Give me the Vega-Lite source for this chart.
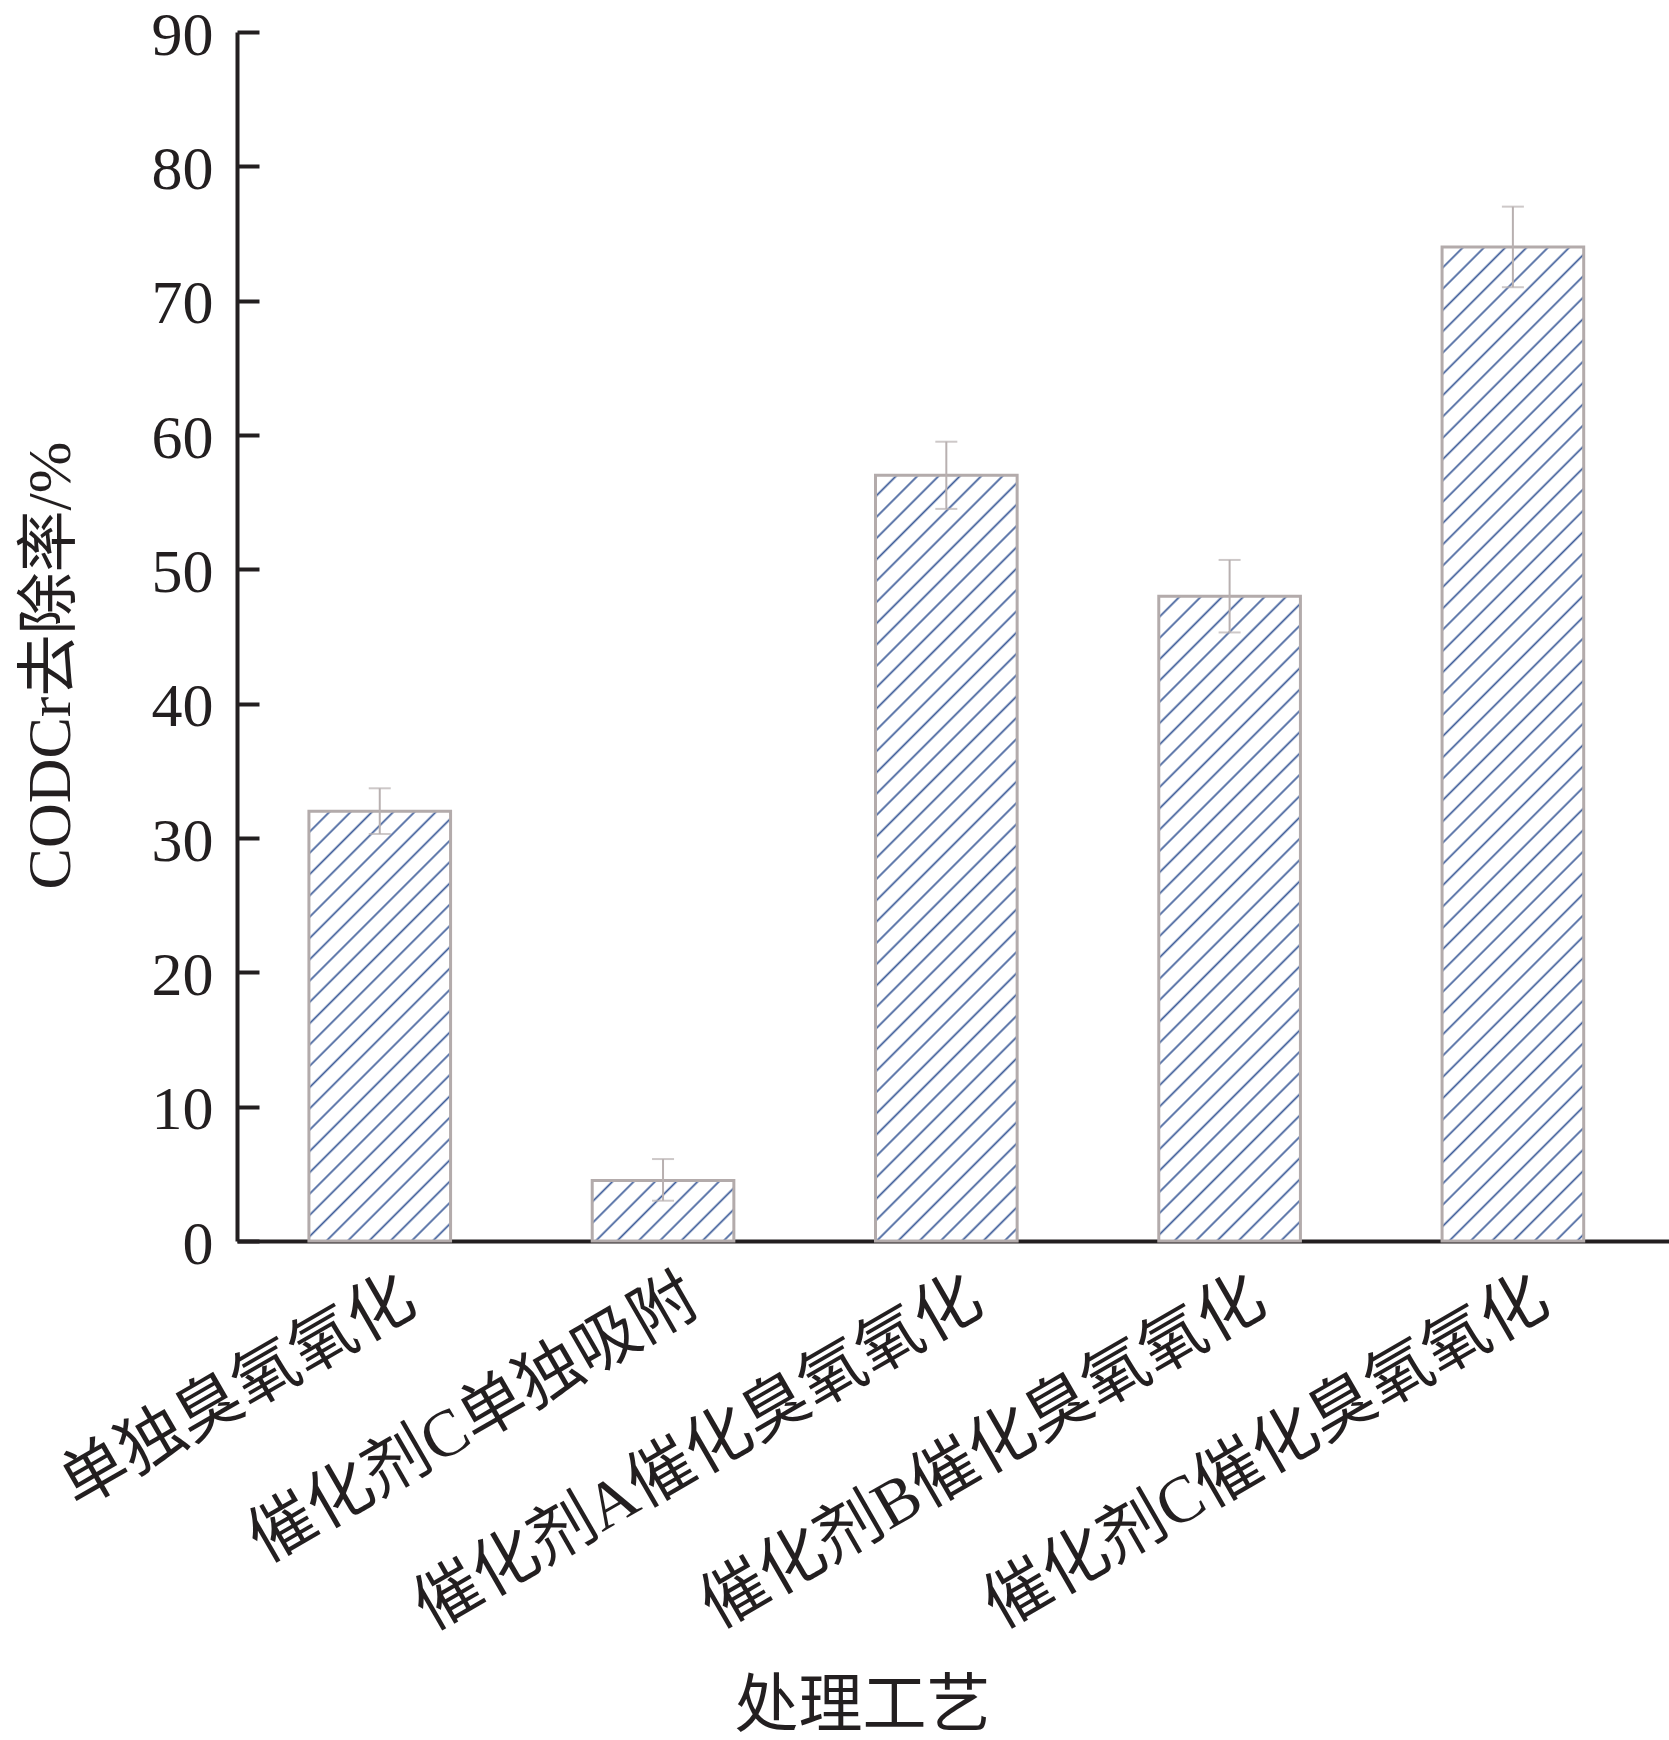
{
  "$schema": "https://vega.github.io/schema/vega-lite/v6.json",
  "width": 1432,
  "height": 1209,
  "autosize": {"type": "none"},
  "padding": {"left": 237, "top": 32, "right": 0, "bottom": 499},
  "background": "#ffffff",
  "config": {
    "view": {"stroke": null},
    "font": "Liberation Serif, Noto Sans CJK SC",
    "axis": {"grid": false, "zindex": 1}
  },
  "data": {
    "values": [
      {"cat": "单独臭氧氧化", "value": 32, "lo": 30.3, "hi": 33.7},
      {"cat": "催化剂C单独吸附", "value": 4.5, "lo": 3.0, "hi": 6.1},
      {"cat": "催化剂A催化臭氧氧化", "value": 57, "lo": 54.5, "hi": 59.5},
      {"cat": "催化剂B催化臭氧氧化", "value": 48, "lo": 45.3, "hi": 50.7},
      {"cat": "催化剂C催化臭氧氧化", "value": 74, "lo": 71.0, "hi": 77.0}
    ]
  },
  "encoding": {
    "x": {
      "field": "cat", "type": "nominal", "sort": null,
      "scale": {"paddingInner": 0.5, "paddingOuter": 0.2775, "align": 0.4575},
      "axis": {
        "title": "处理工艺", "titleFontSize": 64, "titleFontWeight": "normal", "titleColor": "#231f20",
        "titleX": 625, "titleY": 465, "titleAlign": "center", "titleBaseline": "middle",
        "labelAngle": -30, "labelFontSize": 66, "labelColor": "#231f20", "labelPadding": 45, "labelOffset": 14, "labelLimit": 0,
        "domainColor": "#231f20", "domainWidth": 4, "tickColor": "#231f20", "tickWidth": 4, "tickSize": -21
      }
    }
  },
  "layer": [
    {
      "mark": {"type": "bar", "stroke": "#b3abab", "strokeWidth": 3},
      "encoding": {
        "y": {
          "field": "value", "type": "quantitative",
          "scale": {"domain": [0, 90], "nice": false},
          "title": "CODCr去除率/%",
          "axis": {
            "values": [0, 10, 20, 30, 40, 50, 60, 70, 80, 90],
            "titleFontSize": 62, "titleFontWeight": "normal", "titleColor": "#231f20",
            "titleX": -187, "titleY": 633, "titleAlign": "center", "titleBaseline": "middle", "titleAngle": -90,
            "labelFontSize": 62, "labelColor": "#231f20", "labelPadding": 46, "labelOffset": 3,
            "domainColor": "#231f20", "domainWidth": 4, "tickColor": "#231f20", "tickWidth": 4, "tickSize": -22
          }
        },
        "fill": {
          "condition": [
            {
              "test": "datum.cat === '单独臭氧氧化'",
              "value": {
                "gradient": "linear", "x1": 0, "y1": 0, "x2": 0.3952, "y2": 1.1993,
                "stops": [
                  {"offset":0.0331,"color":"#fff"},{"offset":0.0373,"color":"#3d5c99"},{"offset":0.0415,"color":"#fff"},
                  {"offset":0.0703,"color":"#fff"},{"offset":0.0745,"color":"#3d5c99"},{"offset":0.0787,"color":"#fff"},
                  {"offset":0.1076,"color":"#fff"},{"offset":0.1118,"color":"#3d5c99"},{"offset":0.1160,"color":"#fff"},
                  {"offset":0.1449,"color":"#fff"},{"offset":0.1491,"color":"#3d5c99"},{"offset":0.1533,"color":"#fff"},
                  {"offset":0.1821,"color":"#fff"},{"offset":0.1863,"color":"#3d5c99"},{"offset":0.1905,"color":"#fff"},
                  {"offset":0.2194,"color":"#fff"},{"offset":0.2236,"color":"#3d5c99"},{"offset":0.2278,"color":"#fff"},
                  {"offset":0.2567,"color":"#fff"},{"offset":0.2609,"color":"#3d5c99"},{"offset":0.2651,"color":"#fff"},
                  {"offset":0.2939,"color":"#fff"},{"offset":0.2981,"color":"#3d5c99"},{"offset":0.3023,"color":"#fff"},
                  {"offset":0.3312,"color":"#fff"},{"offset":0.3354,"color":"#3d5c99"},{"offset":0.3396,"color":"#fff"},
                  {"offset":0.3685,"color":"#fff"},{"offset":0.3727,"color":"#3d5c99"},{"offset":0.3769,"color":"#fff"},
                  {"offset":0.4057,"color":"#fff"},{"offset":0.4099,"color":"#3d5c99"},{"offset":0.4141,"color":"#fff"},
                  {"offset":0.4430,"color":"#fff"},{"offset":0.4472,"color":"#3d5c99"},{"offset":0.4514,"color":"#fff"},
                  {"offset":0.4803,"color":"#fff"},{"offset":0.4845,"color":"#3d5c99"},{"offset":0.4887,"color":"#fff"},
                  {"offset":0.5175,"color":"#fff"},{"offset":0.5217,"color":"#3d5c99"},{"offset":0.5259,"color":"#fff"},
                  {"offset":0.5548,"color":"#fff"},{"offset":0.5590,"color":"#3d5c99"},{"offset":0.5632,"color":"#fff"},
                  {"offset":0.5921,"color":"#fff"},{"offset":0.5963,"color":"#3d5c99"},{"offset":0.6005,"color":"#fff"},
                  {"offset":0.6293,"color":"#fff"},{"offset":0.6335,"color":"#3d5c99"},{"offset":0.6377,"color":"#fff"},
                  {"offset":0.6666,"color":"#fff"},{"offset":0.6708,"color":"#3d5c99"},{"offset":0.6750,"color":"#fff"},
                  {"offset":0.7039,"color":"#fff"},{"offset":0.7081,"color":"#3d5c99"},{"offset":0.7123,"color":"#fff"},
                  {"offset":0.7411,"color":"#fff"},{"offset":0.7453,"color":"#3d5c99"},{"offset":0.7495,"color":"#fff"},
                  {"offset":0.7784,"color":"#fff"},{"offset":0.7826,"color":"#3d5c99"},{"offset":0.7868,"color":"#fff"},
                  {"offset":0.8157,"color":"#fff"},{"offset":0.8199,"color":"#3d5c99"},{"offset":0.8241,"color":"#fff"},
                  {"offset":0.8529,"color":"#fff"},{"offset":0.8571,"color":"#3d5c99"},{"offset":0.8613,"color":"#fff"},
                  {"offset":0.8902,"color":"#fff"},{"offset":0.8944,"color":"#3d5c99"},{"offset":0.8986,"color":"#fff"},
                  {"offset":0.9275,"color":"#fff"},{"offset":0.9317,"color":"#3d5c99"},{"offset":0.9359,"color":"#fff"},
                  {"offset":0.9647,"color":"#fff"},{"offset":0.9689,"color":"#3d5c99"},{"offset":0.9731,"color":"#fff"}
                ]
              }
            },
            {
              "test": "datum.cat === '催化剂C单独吸附'",
              "value": {
                "gradient": "linear", "x1": 0, "y1": 0, "x2": 1.2069, "y2": 0.5147,
                "stops": [
                  {"offset":0.0935,"color":"#fff"},{"offset":0.1054,"color":"#3d5c99"},{"offset":0.1173,"color":"#fff"},
                  {"offset":0.1989,"color":"#fff"},{"offset":0.2108,"color":"#3d5c99"},{"offset":0.2227,"color":"#fff"},
                  {"offset":0.3044,"color":"#fff"},{"offset":0.3163,"color":"#3d5c99"},{"offset":0.3282,"color":"#fff"},
                  {"offset":0.4098,"color":"#fff"},{"offset":0.4217,"color":"#3d5c99"},{"offset":0.4336,"color":"#fff"},
                  {"offset":0.5152,"color":"#fff"},{"offset":0.5271,"color":"#3d5c99"},{"offset":0.5390,"color":"#fff"},
                  {"offset":0.6206,"color":"#fff"},{"offset":0.6325,"color":"#3d5c99"},{"offset":0.6444,"color":"#fff"},
                  {"offset":0.7260,"color":"#fff"},{"offset":0.7379,"color":"#3d5c99"},{"offset":0.7498,"color":"#fff"},
                  {"offset":0.8315,"color":"#fff"},{"offset":0.8434,"color":"#3d5c99"},{"offset":0.8553,"color":"#fff"},
                  {"offset":0.9369,"color":"#fff"},{"offset":0.9488,"color":"#3d5c99"},{"offset":0.9607,"color":"#fff"}
                ]
              }
            },
            {
              "test": "datum.cat === '催化剂A催化臭氧氧化'",
              "value": {
                "gradient": "linear", "x1": 0, "y1": 0, "x2": 0.2120, "y2": 1.1458,
                "stops": [
                  {"offset":0.0208,"color":"#fff"},{"offset":0.0235,"color":"#3d5c99"},{"offset":0.0262,"color":"#fff"},
                  {"offset":0.0443,"color":"#fff"},{"offset":0.0470,"color":"#3d5c99"},{"offset":0.0497,"color":"#fff"},
                  {"offset":0.0677,"color":"#fff"},{"offset":0.0704,"color":"#3d5c99"},{"offset":0.0731,"color":"#fff"},
                  {"offset":0.0912,"color":"#fff"},{"offset":0.0939,"color":"#3d5c99"},{"offset":0.0966,"color":"#fff"},
                  {"offset":0.1147,"color":"#fff"},{"offset":0.1174,"color":"#3d5c99"},{"offset":0.1201,"color":"#fff"},
                  {"offset":0.1382,"color":"#fff"},{"offset":0.1409,"color":"#3d5c99"},{"offset":0.1436,"color":"#fff"},
                  {"offset":0.1616,"color":"#fff"},{"offset":0.1643,"color":"#3d5c99"},{"offset":0.1670,"color":"#fff"},
                  {"offset":0.1851,"color":"#fff"},{"offset":0.1878,"color":"#3d5c99"},{"offset":0.1905,"color":"#fff"},
                  {"offset":0.2086,"color":"#fff"},{"offset":0.2113,"color":"#3d5c99"},{"offset":0.2140,"color":"#fff"},
                  {"offset":0.2321,"color":"#fff"},{"offset":0.2348,"color":"#3d5c99"},{"offset":0.2375,"color":"#fff"},
                  {"offset":0.2555,"color":"#fff"},{"offset":0.2582,"color":"#3d5c99"},{"offset":0.2609,"color":"#fff"},
                  {"offset":0.2790,"color":"#fff"},{"offset":0.2817,"color":"#3d5c99"},{"offset":0.2844,"color":"#fff"},
                  {"offset":0.3025,"color":"#fff"},{"offset":0.3052,"color":"#3d5c99"},{"offset":0.3079,"color":"#fff"},
                  {"offset":0.3260,"color":"#fff"},{"offset":0.3287,"color":"#3d5c99"},{"offset":0.3314,"color":"#fff"},
                  {"offset":0.3494,"color":"#fff"},{"offset":0.3521,"color":"#3d5c99"},{"offset":0.3548,"color":"#fff"},
                  {"offset":0.3729,"color":"#fff"},{"offset":0.3756,"color":"#3d5c99"},{"offset":0.3783,"color":"#fff"},
                  {"offset":0.3964,"color":"#fff"},{"offset":0.3991,"color":"#3d5c99"},{"offset":0.4018,"color":"#fff"},
                  {"offset":0.4199,"color":"#fff"},{"offset":0.4226,"color":"#3d5c99"},{"offset":0.4253,"color":"#fff"},
                  {"offset":0.4433,"color":"#fff"},{"offset":0.4460,"color":"#3d5c99"},{"offset":0.4487,"color":"#fff"},
                  {"offset":0.4668,"color":"#fff"},{"offset":0.4695,"color":"#3d5c99"},{"offset":0.4722,"color":"#fff"},
                  {"offset":0.4903,"color":"#fff"},{"offset":0.4930,"color":"#3d5c99"},{"offset":0.4957,"color":"#fff"},
                  {"offset":0.5138,"color":"#fff"},{"offset":0.5165,"color":"#3d5c99"},{"offset":0.5192,"color":"#fff"},
                  {"offset":0.5372,"color":"#fff"},{"offset":0.5399,"color":"#3d5c99"},{"offset":0.5426,"color":"#fff"},
                  {"offset":0.5607,"color":"#fff"},{"offset":0.5634,"color":"#3d5c99"},{"offset":0.5661,"color":"#fff"},
                  {"offset":0.5842,"color":"#fff"},{"offset":0.5869,"color":"#3d5c99"},{"offset":0.5896,"color":"#fff"},
                  {"offset":0.6077,"color":"#fff"},{"offset":0.6104,"color":"#3d5c99"},{"offset":0.6131,"color":"#fff"},
                  {"offset":0.6311,"color":"#fff"},{"offset":0.6338,"color":"#3d5c99"},{"offset":0.6365,"color":"#fff"},
                  {"offset":0.6546,"color":"#fff"},{"offset":0.6573,"color":"#3d5c99"},{"offset":0.6600,"color":"#fff"},
                  {"offset":0.6781,"color":"#fff"},{"offset":0.6808,"color":"#3d5c99"},{"offset":0.6835,"color":"#fff"},
                  {"offset":0.7016,"color":"#fff"},{"offset":0.7043,"color":"#3d5c99"},{"offset":0.7070,"color":"#fff"},
                  {"offset":0.7250,"color":"#fff"},{"offset":0.7277,"color":"#3d5c99"},{"offset":0.7304,"color":"#fff"},
                  {"offset":0.7485,"color":"#fff"},{"offset":0.7512,"color":"#3d5c99"},{"offset":0.7539,"color":"#fff"},
                  {"offset":0.7720,"color":"#fff"},{"offset":0.7747,"color":"#3d5c99"},{"offset":0.7774,"color":"#fff"},
                  {"offset":0.7955,"color":"#fff"},{"offset":0.7982,"color":"#3d5c99"},{"offset":0.8009,"color":"#fff"},
                  {"offset":0.8189,"color":"#fff"},{"offset":0.8216,"color":"#3d5c99"},{"offset":0.8243,"color":"#fff"},
                  {"offset":0.8424,"color":"#fff"},{"offset":0.8451,"color":"#3d5c99"},{"offset":0.8478,"color":"#fff"},
                  {"offset":0.8659,"color":"#fff"},{"offset":0.8686,"color":"#3d5c99"},{"offset":0.8713,"color":"#fff"},
                  {"offset":0.8894,"color":"#fff"},{"offset":0.8921,"color":"#3d5c99"},{"offset":0.8948,"color":"#fff"},
                  {"offset":0.9128,"color":"#fff"},{"offset":0.9155,"color":"#3d5c99"},{"offset":0.9182,"color":"#fff"},
                  {"offset":0.9363,"color":"#fff"},{"offset":0.9390,"color":"#3d5c99"},{"offset":0.9417,"color":"#fff"},
                  {"offset":0.9598,"color":"#fff"},{"offset":0.9625,"color":"#3d5c99"},{"offset":0.9652,"color":"#fff"},
                  {"offset":0.9833,"color":"#fff"},{"offset":0.9860,"color":"#3d5c99"},{"offset":0.9887,"color":"#fff"}
                ]
              }
            },
            {
              "test": "datum.cat === '催化剂B催化臭氧氧化'",
              "value": {
                "gradient": "linear", "x1": 0, "y1": 0, "x2": 0.2556, "y2": 1.1635,
                "stops": [
                  {"offset":0.0240,"color":"#fff"},{"offset":0.0271,"color":"#3d5c99"},{"offset":0.0302,"color":"#fff"},
                  {"offset":0.0511,"color":"#fff"},{"offset":0.0542,"color":"#3d5c99"},{"offset":0.0573,"color":"#fff"},
                  {"offset":0.0782,"color":"#fff"},{"offset":0.0813,"color":"#3d5c99"},{"offset":0.0844,"color":"#fff"},
                  {"offset":0.1052,"color":"#fff"},{"offset":0.1083,"color":"#3d5c99"},{"offset":0.1114,"color":"#fff"},
                  {"offset":0.1323,"color":"#fff"},{"offset":0.1354,"color":"#3d5c99"},{"offset":0.1385,"color":"#fff"},
                  {"offset":0.1594,"color":"#fff"},{"offset":0.1625,"color":"#3d5c99"},{"offset":0.1656,"color":"#fff"},
                  {"offset":0.1865,"color":"#fff"},{"offset":0.1896,"color":"#3d5c99"},{"offset":0.1927,"color":"#fff"},
                  {"offset":0.2136,"color":"#fff"},{"offset":0.2167,"color":"#3d5c99"},{"offset":0.2198,"color":"#fff"},
                  {"offset":0.2407,"color":"#fff"},{"offset":0.2438,"color":"#3d5c99"},{"offset":0.2469,"color":"#fff"},
                  {"offset":0.2677,"color":"#fff"},{"offset":0.2708,"color":"#3d5c99"},{"offset":0.2739,"color":"#fff"},
                  {"offset":0.2948,"color":"#fff"},{"offset":0.2979,"color":"#3d5c99"},{"offset":0.3010,"color":"#fff"},
                  {"offset":0.3219,"color":"#fff"},{"offset":0.3250,"color":"#3d5c99"},{"offset":0.3281,"color":"#fff"},
                  {"offset":0.3490,"color":"#fff"},{"offset":0.3521,"color":"#3d5c99"},{"offset":0.3552,"color":"#fff"},
                  {"offset":0.3761,"color":"#fff"},{"offset":0.3792,"color":"#3d5c99"},{"offset":0.3823,"color":"#fff"},
                  {"offset":0.4032,"color":"#fff"},{"offset":0.4063,"color":"#3d5c99"},{"offset":0.4094,"color":"#fff"},
                  {"offset":0.4302,"color":"#fff"},{"offset":0.4333,"color":"#3d5c99"},{"offset":0.4364,"color":"#fff"},
                  {"offset":0.4573,"color":"#fff"},{"offset":0.4604,"color":"#3d5c99"},{"offset":0.4635,"color":"#fff"},
                  {"offset":0.4844,"color":"#fff"},{"offset":0.4875,"color":"#3d5c99"},{"offset":0.4906,"color":"#fff"},
                  {"offset":0.5115,"color":"#fff"},{"offset":0.5146,"color":"#3d5c99"},{"offset":0.5177,"color":"#fff"},
                  {"offset":0.5386,"color":"#fff"},{"offset":0.5417,"color":"#3d5c99"},{"offset":0.5448,"color":"#fff"},
                  {"offset":0.5657,"color":"#fff"},{"offset":0.5688,"color":"#3d5c99"},{"offset":0.5719,"color":"#fff"},
                  {"offset":0.5927,"color":"#fff"},{"offset":0.5958,"color":"#3d5c99"},{"offset":0.5989,"color":"#fff"},
                  {"offset":0.6198,"color":"#fff"},{"offset":0.6229,"color":"#3d5c99"},{"offset":0.6260,"color":"#fff"},
                  {"offset":0.6469,"color":"#fff"},{"offset":0.6500,"color":"#3d5c99"},{"offset":0.6531,"color":"#fff"},
                  {"offset":0.6740,"color":"#fff"},{"offset":0.6771,"color":"#3d5c99"},{"offset":0.6802,"color":"#fff"},
                  {"offset":0.7011,"color":"#fff"},{"offset":0.7042,"color":"#3d5c99"},{"offset":0.7073,"color":"#fff"},
                  {"offset":0.7282,"color":"#fff"},{"offset":0.7313,"color":"#3d5c99"},{"offset":0.7344,"color":"#fff"},
                  {"offset":0.7553,"color":"#fff"},{"offset":0.7584,"color":"#3d5c99"},{"offset":0.7615,"color":"#fff"},
                  {"offset":0.7823,"color":"#fff"},{"offset":0.7854,"color":"#3d5c99"},{"offset":0.7885,"color":"#fff"},
                  {"offset":0.8094,"color":"#fff"},{"offset":0.8125,"color":"#3d5c99"},{"offset":0.8156,"color":"#fff"},
                  {"offset":0.8365,"color":"#fff"},{"offset":0.8396,"color":"#3d5c99"},{"offset":0.8427,"color":"#fff"},
                  {"offset":0.8636,"color":"#fff"},{"offset":0.8667,"color":"#3d5c99"},{"offset":0.8698,"color":"#fff"},
                  {"offset":0.8907,"color":"#fff"},{"offset":0.8938,"color":"#3d5c99"},{"offset":0.8969,"color":"#fff"},
                  {"offset":0.9178,"color":"#fff"},{"offset":0.9209,"color":"#3d5c99"},{"offset":0.9240,"color":"#fff"},
                  {"offset":0.9448,"color":"#fff"},{"offset":0.9479,"color":"#3d5c99"},{"offset":0.9510,"color":"#fff"},
                  {"offset":0.9719,"color":"#fff"},{"offset":0.9750,"color":"#3d5c99"},{"offset":0.9781,"color":"#fff"}
                ]
              }
            },
            {
              "test": "datum.cat === '催化剂C催化臭氧氧化'",
              "value": {
                "gradient": "linear", "x1": 0, "y1": 0, "x2": 0.1596, "y2": 1.1198,
                "stops": [
                  {"offset":0.0167,"color":"#fff"},{"offset":0.0188,"color":"#3d5c99"},{"offset":0.0209,"color":"#fff"},
                  {"offset":0.0354,"color":"#fff"},{"offset":0.0375,"color":"#3d5c99"},{"offset":0.0396,"color":"#fff"},
                  {"offset":0.0542,"color":"#fff"},{"offset":0.0563,"color":"#3d5c99"},{"offset":0.0584,"color":"#fff"},
                  {"offset":0.0729,"color":"#fff"},{"offset":0.0750,"color":"#3d5c99"},{"offset":0.0771,"color":"#fff"},
                  {"offset":0.0917,"color":"#fff"},{"offset":0.0938,"color":"#3d5c99"},{"offset":0.0959,"color":"#fff"},
                  {"offset":0.1104,"color":"#fff"},{"offset":0.1125,"color":"#3d5c99"},{"offset":0.1146,"color":"#fff"},
                  {"offset":0.1292,"color":"#fff"},{"offset":0.1313,"color":"#3d5c99"},{"offset":0.1334,"color":"#fff"},
                  {"offset":0.1479,"color":"#fff"},{"offset":0.1500,"color":"#3d5c99"},{"offset":0.1521,"color":"#fff"},
                  {"offset":0.1667,"color":"#fff"},{"offset":0.1688,"color":"#3d5c99"},{"offset":0.1709,"color":"#fff"},
                  {"offset":0.1855,"color":"#fff"},{"offset":0.1876,"color":"#3d5c99"},{"offset":0.1897,"color":"#fff"},
                  {"offset":0.2042,"color":"#fff"},{"offset":0.2063,"color":"#3d5c99"},{"offset":0.2084,"color":"#fff"},
                  {"offset":0.2230,"color":"#fff"},{"offset":0.2251,"color":"#3d5c99"},{"offset":0.2272,"color":"#fff"},
                  {"offset":0.2417,"color":"#fff"},{"offset":0.2438,"color":"#3d5c99"},{"offset":0.2459,"color":"#fff"},
                  {"offset":0.2605,"color":"#fff"},{"offset":0.2626,"color":"#3d5c99"},{"offset":0.2647,"color":"#fff"},
                  {"offset":0.2792,"color":"#fff"},{"offset":0.2813,"color":"#3d5c99"},{"offset":0.2834,"color":"#fff"},
                  {"offset":0.2980,"color":"#fff"},{"offset":0.3001,"color":"#3d5c99"},{"offset":0.3022,"color":"#fff"},
                  {"offset":0.3168,"color":"#fff"},{"offset":0.3189,"color":"#3d5c99"},{"offset":0.3210,"color":"#fff"},
                  {"offset":0.3355,"color":"#fff"},{"offset":0.3376,"color":"#3d5c99"},{"offset":0.3397,"color":"#fff"},
                  {"offset":0.3543,"color":"#fff"},{"offset":0.3564,"color":"#3d5c99"},{"offset":0.3585,"color":"#fff"},
                  {"offset":0.3730,"color":"#fff"},{"offset":0.3751,"color":"#3d5c99"},{"offset":0.3772,"color":"#fff"},
                  {"offset":0.3918,"color":"#fff"},{"offset":0.3939,"color":"#3d5c99"},{"offset":0.3960,"color":"#fff"},
                  {"offset":0.4105,"color":"#fff"},{"offset":0.4126,"color":"#3d5c99"},{"offset":0.4147,"color":"#fff"},
                  {"offset":0.4293,"color":"#fff"},{"offset":0.4314,"color":"#3d5c99"},{"offset":0.4335,"color":"#fff"},
                  {"offset":0.4480,"color":"#fff"},{"offset":0.4501,"color":"#3d5c99"},{"offset":0.4522,"color":"#fff"},
                  {"offset":0.4668,"color":"#fff"},{"offset":0.4689,"color":"#3d5c99"},{"offset":0.4710,"color":"#fff"},
                  {"offset":0.4856,"color":"#fff"},{"offset":0.4877,"color":"#3d5c99"},{"offset":0.4898,"color":"#fff"},
                  {"offset":0.5043,"color":"#fff"},{"offset":0.5064,"color":"#3d5c99"},{"offset":0.5085,"color":"#fff"},
                  {"offset":0.5231,"color":"#fff"},{"offset":0.5252,"color":"#3d5c99"},{"offset":0.5273,"color":"#fff"},
                  {"offset":0.5418,"color":"#fff"},{"offset":0.5439,"color":"#3d5c99"},{"offset":0.5460,"color":"#fff"},
                  {"offset":0.5606,"color":"#fff"},{"offset":0.5627,"color":"#3d5c99"},{"offset":0.5648,"color":"#fff"},
                  {"offset":0.5793,"color":"#fff"},{"offset":0.5814,"color":"#3d5c99"},{"offset":0.5835,"color":"#fff"},
                  {"offset":0.5981,"color":"#fff"},{"offset":0.6002,"color":"#3d5c99"},{"offset":0.6023,"color":"#fff"},
                  {"offset":0.6168,"color":"#fff"},{"offset":0.6189,"color":"#3d5c99"},{"offset":0.6210,"color":"#fff"},
                  {"offset":0.6356,"color":"#fff"},{"offset":0.6377,"color":"#3d5c99"},{"offset":0.6398,"color":"#fff"},
                  {"offset":0.6544,"color":"#fff"},{"offset":0.6565,"color":"#3d5c99"},{"offset":0.6586,"color":"#fff"},
                  {"offset":0.6731,"color":"#fff"},{"offset":0.6752,"color":"#3d5c99"},{"offset":0.6773,"color":"#fff"},
                  {"offset":0.6919,"color":"#fff"},{"offset":0.6940,"color":"#3d5c99"},{"offset":0.6961,"color":"#fff"},
                  {"offset":0.7106,"color":"#fff"},{"offset":0.7127,"color":"#3d5c99"},{"offset":0.7148,"color":"#fff"},
                  {"offset":0.7294,"color":"#fff"},{"offset":0.7315,"color":"#3d5c99"},{"offset":0.7336,"color":"#fff"},
                  {"offset":0.7481,"color":"#fff"},{"offset":0.7502,"color":"#3d5c99"},{"offset":0.7523,"color":"#fff"},
                  {"offset":0.7669,"color":"#fff"},{"offset":0.7690,"color":"#3d5c99"},{"offset":0.7711,"color":"#fff"},
                  {"offset":0.7857,"color":"#fff"},{"offset":0.7878,"color":"#3d5c99"},{"offset":0.7899,"color":"#fff"},
                  {"offset":0.8044,"color":"#fff"},{"offset":0.8065,"color":"#3d5c99"},{"offset":0.8086,"color":"#fff"},
                  {"offset":0.8232,"color":"#fff"},{"offset":0.8253,"color":"#3d5c99"},{"offset":0.8274,"color":"#fff"},
                  {"offset":0.8419,"color":"#fff"},{"offset":0.8440,"color":"#3d5c99"},{"offset":0.8461,"color":"#fff"},
                  {"offset":0.8607,"color":"#fff"},{"offset":0.8628,"color":"#3d5c99"},{"offset":0.8649,"color":"#fff"},
                  {"offset":0.8794,"color":"#fff"},{"offset":0.8815,"color":"#3d5c99"},{"offset":0.8836,"color":"#fff"},
                  {"offset":0.8982,"color":"#fff"},{"offset":0.9003,"color":"#3d5c99"},{"offset":0.9024,"color":"#fff"},
                  {"offset":0.9170,"color":"#fff"},{"offset":0.9191,"color":"#3d5c99"},{"offset":0.9212,"color":"#fff"},
                  {"offset":0.9357,"color":"#fff"},{"offset":0.9378,"color":"#3d5c99"},{"offset":0.9399,"color":"#fff"},
                  {"offset":0.9545,"color":"#fff"},{"offset":0.9566,"color":"#3d5c99"},{"offset":0.9587,"color":"#fff"},
                  {"offset":0.9732,"color":"#fff"},{"offset":0.9753,"color":"#3d5c99"},{"offset":0.9774,"color":"#fff"},
                  {"offset":0.9920,"color":"#fff"},{"offset":0.9941,"color":"#3d5c99"},{"offset":0.9962,"color":"#fff"}
                ]
              }
            }
          ],
          "value": "#e3e8f1"
        }
      }
    },
    {
      "mark": {"type": "errorbar", "color": "#b8b0b0", "thickness": 2, "ticks": {"size": 22, "thickness": 2, "color": "#b8b0b0"}},
      "encoding": {
        "y": {"field": "lo", "type": "quantitative", "title": "CODCr去除率/%"},
        "y2": {"field": "hi"}
      }
    }
  ]
}
